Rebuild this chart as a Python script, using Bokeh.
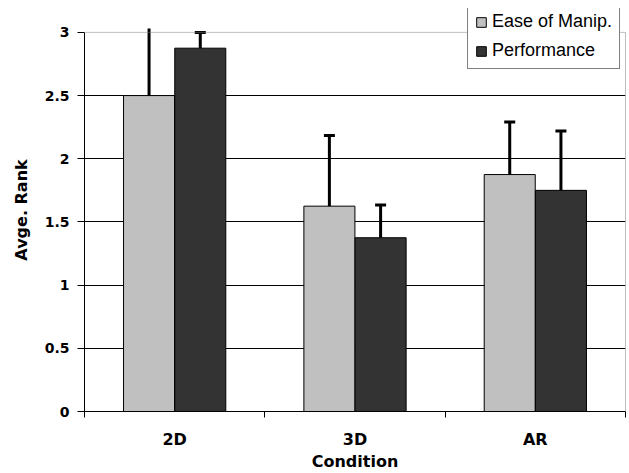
from bokeh.plotting import figure
from bokeh.models import (ColumnDataSource, FixedTicker, Legend, LegendItem, Span, Range1d)
from bokeh.transform import dodge
from bokeh.embed import file_html
from bokeh.resources import INLINE

# ---- data ----
conditions = ["2D", "3D", "AR"]
ease = [2.5, 1.625, 1.875]
ease_err = [0.6, 0.56, 0.415]
perf = [2.875, 1.375, 1.75]
perf_err = [0.125, 0.26, 0.47]
y_ticks = [0, 0.5, 1, 1.5, 2, 2.5, 3]
series_names = ["Ease of Manip.", "Performance"]

Y_MAX = y_ticks[-1]
CLIP = Y_MAX + 0.03          # plot-area clipping of error bars (as in the original)

centers = [i + 0.5 for i in range(len(conditions))]
boundaries = list(range(len(conditions) + 1))


def tops(vals, errs):
    return [min(v + e, CLIP) for v, e in zip(vals, errs)]


def caps(vals, errs):
    return [1.0 if v + e <= CLIP else 0.0 for v, e in zip(vals, errs)]


src = ColumnDataSource(dict(
    x=centers,
    ease=ease, ease_up=tops(ease, ease_err), ease_cap=caps(ease, ease_err),
    perf=perf, perf_up=tops(perf, perf_err), perf_cap=caps(perf, perf_err),
))

BOLD = "DejaVu Sans"
OFF = 0.142
W = 0.283

p = figure(width=629, height=473,
           x_range=Range1d(0, len(conditions)), y_range=Range1d(0, 3.189),
           output_backend="svg", toolbar_location=None,
           min_border_left=84, min_border_right=4,
           min_border_top=8, min_border_bottom=60)
p.outline_line_color = None
p.background_fill_color = "white"
p.border_fill_color = "white"

# grid
p.xgrid.visible = False
p.ygrid.ticker = FixedTicker(ticks=[t for t in y_ticks if 0 < t < Y_MAX])
p.ygrid.grid_line_color = "black"
p.ygrid.grid_line_width = 1

# plot-area border (top dotted gray, right gray)
p.add_layout(Span(location=Y_MAX, dimension="width", line_color="#808080",
                  line_width=1, line_dash="1 1"))
p.line(x=[len(conditions), len(conditions)], y=[0, Y_MAX],
       line_color="#808080", line_width=1)

# bars
r_ease = p.vbar(x=dodge("x", -OFF, range=p.x_range), top="ease", width=W,
                source=src, fill_color="#c0c0c0", line_color="black", line_width=1)
r_perf = p.vbar(x=dodge("x", OFF, range=p.x_range), top="perf", width=W,
                source=src, fill_color="#333333", line_color="black", line_width=1)

# error bars (upper only)
for off, lo, up, cap in [(-OFF, "ease", "ease_up", "ease_cap"),
                         (OFF, "perf", "perf_up", "perf_cap")]:
    xs = dodge("x", off, range=p.x_range)
    p.segment(x0=xs, y0=lo, x1=xs, y1=up, source=src,
              line_color="black", line_width=3)
    p.scatter(x=xs, y=up, source=src, marker="dash", size=11,
              line_color="black", line_width=3, line_alpha=cap)

# y axis
p.yaxis.ticker = FixedTicker(ticks=y_ticks)
p.yaxis.bounds = (0, Y_MAX)
p.yaxis.axis_label = "Avge. Rank"
p.yaxis.axis_label_text_font = BOLD
p.yaxis.axis_label_text_font_style = "bold"
p.yaxis.axis_label_text_font_size = "16px"
p.yaxis.axis_label_text_color = "black"
p.yaxis.axis_label_standoff = 11
p.yaxis.major_label_text_font = BOLD
p.yaxis.major_label_text_font_style = "bold"
p.yaxis.major_label_text_font_size = "14px"
p.yaxis.major_label_text_color = "black"
p.yaxis.major_label_standoff = 8
p.yaxis.major_tick_out = 7
p.yaxis.major_tick_in = 0
p.yaxis.minor_tick_line_color = None
p.yaxis.axis_line_color = "black"
p.yaxis.major_tick_line_color = "black"

# x axis
p.xaxis.ticker = FixedTicker(ticks=centers, minor_ticks=boundaries)
p.xaxis.major_label_overrides = {c: lab for c, lab in zip(centers, conditions)}
p.xaxis.axis_label = "Condition"
p.xaxis.axis_label_text_font = BOLD
p.xaxis.axis_label_text_font_style = "bold"
p.xaxis.axis_label_text_font_size = "16px"
p.xaxis.axis_label_text_color = "black"
p.xaxis.axis_label_standoff = 0
p.xaxis.major_label_text_font = BOLD
p.xaxis.major_label_text_font_style = "bold"
p.xaxis.major_label_text_font_size = "16px"
p.xaxis.major_label_text_color = "black"
p.xaxis.major_label_standoff = 12
p.xaxis.major_tick_line_color = None
p.xaxis.major_tick_out = 6
p.xaxis.major_tick_in = 0
p.xaxis.minor_tick_line_color = "black"
p.xaxis.minor_tick_out = 6
p.xaxis.minor_tick_in = 0
p.xaxis.axis_line_color = "black"

# legend
legend = Legend(items=[LegendItem(label=series_names[0], renderers=[r_ease]),
                       LegendItem(label=series_names[1], renderers=[r_perf])],
                location=(383, 342))
legend.label_text_font = "Liberation Sans"
legend.label_text_font_size = "18px"
legend.label_text_color = "black"
legend.glyph_width = 12
legend.glyph_height = 12
legend.label_height = 20
legend.label_standoff = 5
legend.spacing = 8
legend.padding = 7
legend.margin = 0
legend.border_line_color = "black"
legend.border_line_width = 1
legend.background_fill_color = "white"
legend.background_fill_alpha = 1
p.add_layout(legend, "center")

open("out.html", "w").write(file_html(p, INLINE))
